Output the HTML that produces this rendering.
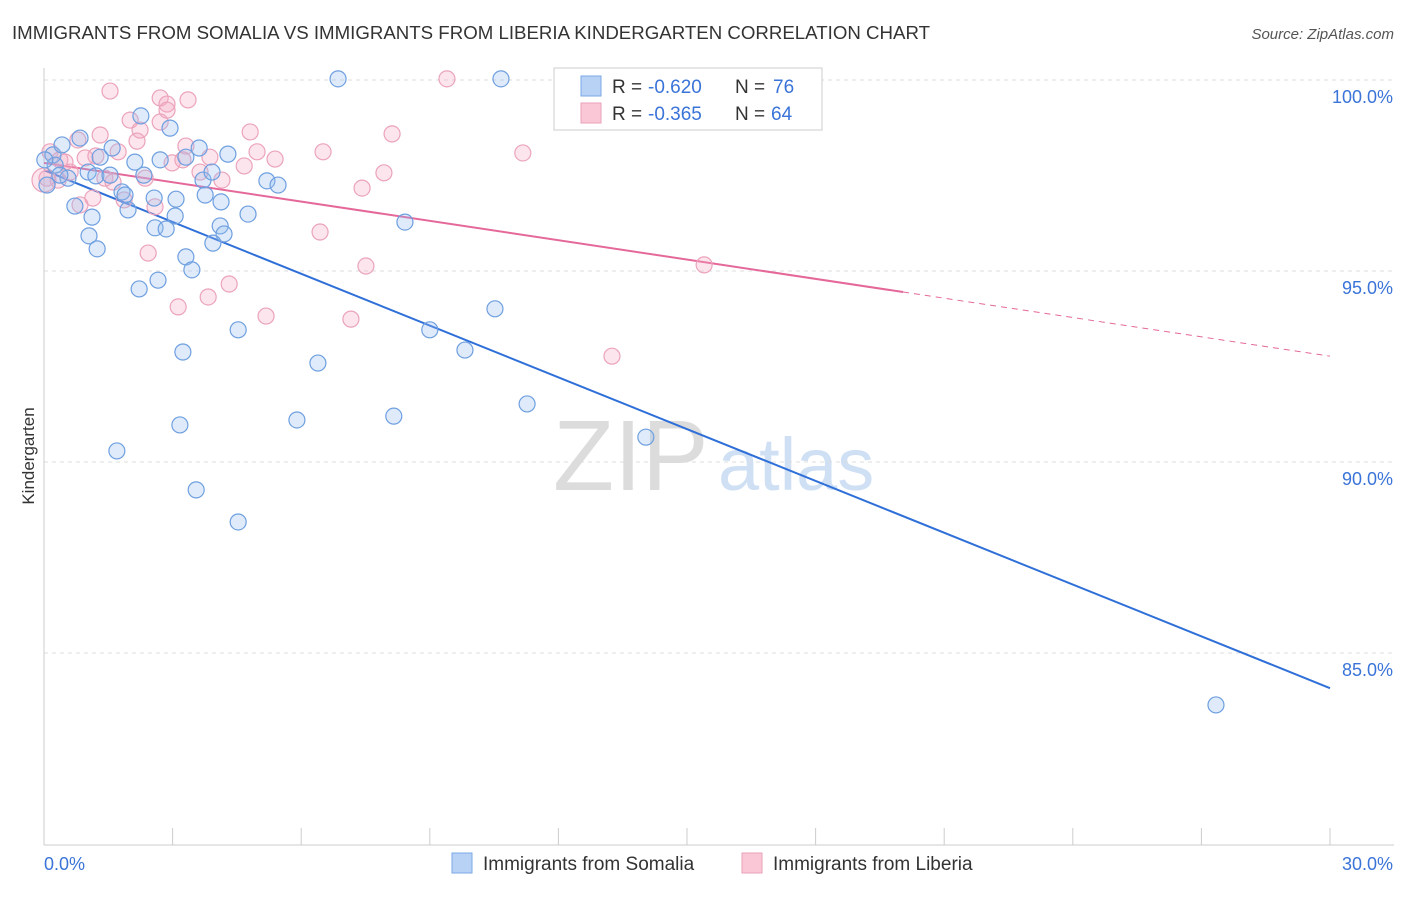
<!DOCTYPE html>
<html><head><meta charset="utf-8"><style>
body{margin:0;background:#fff;font-family:"Liberation Sans",sans-serif;}
svg text{font-family:"Liberation Sans",sans-serif;}
</style></head><body>
<svg id="c" width="1406" height="892" xmlns="http://www.w3.org/2000/svg">
<text x="12" y="39" font-size="18" fill="#333" textLength="918" lengthAdjust="spacingAndGlyphs">IMMIGRANTS FROM SOMALIA VS IMMIGRANTS FROM LIBERIA KINDERGARTEN CORRELATION CHART</text>
<text x="1394" y="39" font-size="15" fill="#555" text-anchor="end" font-style="italic">Source: ZipAtlas.com</text>
<text x="34" y="456" font-size="17" fill="#333" text-anchor="middle" transform="rotate(-90 34 456)">Kindergarten</text>
<g><text x="553" y="490" font-size="100" fill="#dcdcdc" font-family="Liberation Serif,serif">ZIP</text><text x="718" y="490" font-size="74" fill="#cfe0f5">atlas</text></g>
<g id="grid"></g><g id="axes"></g><g id="lines"></g><g id="pts"></g>
<g>
<rect x="554" y="68" width="268" height="62" fill="#fff" stroke="#ccc"/>
<rect x="581" y="76" width="20" height="20" fill="#b8d2f5" stroke="#7aa8e6"/>
<text x="612" y="93" font-size="19" fill="#333">R =</text>
<text x="648" y="93" font-size="19" fill="#3a74d8">-0.620</text>
<text x="735" y="93" font-size="19" fill="#333">N =</text>
<text x="773" y="93" font-size="19" fill="#3a74d8">76</text>
<rect x="581" y="103" width="20" height="20" fill="#f9c7d6" stroke="#eaa0b8"/>
<text x="612" y="120" font-size="19" fill="#333">R =</text>
<text x="648" y="120" font-size="19" fill="#3a74d8">-0.365</text>
<text x="735" y="120" font-size="19" fill="#333">N =</text>
<text x="771" y="120" font-size="19" fill="#3a74d8">64</text>
</g>
<g>
<rect x="452" y="853" width="20" height="20" fill="#b8d2f5" stroke="#7aa8e6"/>
<text x="483" y="870" font-size="19" fill="#333">Immigrants from Somalia</text>
<rect x="742" y="853" width="20" height="20" fill="#f9c7d6" stroke="#eaa0b8"/>
<text x="773" y="870" font-size="19" fill="#333">Immigrants from Liberia</text>
</g>
</svg>
<script>
const yTicks=[100,95,90,85];
const yTickLabels=["100.0%","95.0%","90.0%","85.0%"];
const xTicks=[0,3,6,9,12,15,18,21,24,27,30];
const xEndLabels=["0.0%","30.0%"];
const somaliaX=[6.86,10.66,0.21,0.42,0.84,1.31,1.59,2.26,2.94,3.62,4.29,2.12,2.71,3.31,3.71,3.92,0.26,0.56,1.03,1.21,1.82,2.33,3.08,3.76,4.13,4.76,5.20,5.46,0.72,1.12,1.96,2.57,3.06,2.59,2.85,4.11,4.20,3.94,1.05,1.24,3.31,3.45,2.66,2.22,8.42,4.53,3.24,6.39,9.00,9.82,10.52,5.90,8.16,11.27,3.17,1.70,14.04,3.55,4.53,27.34,0.07,0.37,1.54,1.89,0.02];
const somaliaY=[100.03,100.03,98.04,98.30,98.48,97.98,98.22,99.06,98.74,98.22,98.06,97.85,97.91,97.98,97.38,97.59,97.77,97.43,97.59,97.49,97.07,97.51,96.88,96.99,96.81,96.49,97.36,97.25,96.70,96.41,96.60,96.91,96.44,96.13,96.10,96.18,95.97,95.73,95.92,95.58,95.37,95.03,94.76,94.53,96.28,93.46,92.88,92.59,93.46,92.93,94.01,91.10,91.20,91.52,90.97,90.29,90.65,89.27,88.43,83.64,97.25,97.51,97.51,96.99,97.91];
const liberiaX=[1.54,2.71,3.36,2.87,9.40,2.87,2.01,4.81,8.12,1.31,0.79,2.17,3.31,3.87,4.97,5.39,6.51,11.17,1.21,0.96,1.73,0.14,0.37,2.99,3.24,3.64,4.15,4.67,7.93,7.42,0.61,0.33,1.42,2.36,1.61,1.14,0.84,1.87,2.59,6.44,2.43,7.51,15.40,3.83,3.13,4.32,5.18,7.16,13.25,0.07,0.49,2.24,2.71,0.0];
const liberiaY=[99.71,99.53,99.48,99.37,100.03,99.21,98.95,98.64,98.59,98.56,98.43,98.40,98.27,97.98,98.12,97.93,98.12,98.09,98.01,97.96,98.12,98.12,97.91,97.83,97.91,97.59,97.38,97.75,97.57,97.17,97.59,97.38,97.43,97.43,97.33,96.91,96.73,96.86,96.68,96.02,95.47,95.13,95.16,94.32,94.06,94.66,93.82,93.74,92.77,97.43,97.85,98.69,98.90,97.38];
const somaliaTrend=[97.64,84.08];
const liberiaTrend=[97.83,92.77];
const liberiaSolidEnd=20.04;
const NS="http://www.w3.org/2000/svg";
const X=v=>44+v*(1330-44)/30;
const Y=v=>80+(100-v)*38.2;
function mk(t,a,p){const e=document.createElementNS(NS,t);for(const k in a)e.setAttribute(k,a[k]);document.getElementById(p).appendChild(e);return e;}
yTicks.forEach((t,i)=>{
 const l=mk('line',{x1:44,x2:1394,y1:Y(t),y2:Y(t),stroke:'#ddd','stroke-dasharray':'4,4'},'grid');
 
 
 const tx=mk('text',{x:1393,y:Y(t)+23,'font-size':18,fill:'#3a74d8','text-anchor':'end'},'axes');
 tx.textContent=yTickLabels[i];
 
 
});
const ax=mk('line',{x1:44,x2:44,y1:68,y2:845,stroke:'#ccc'},'axes');


const bx=mk('line',{x1:44,x2:1394,y1:845,y2:845,stroke:'#ccc'},'axes');


xTicks.forEach(t=>{
 const l=mk('line',{x1:X(t),x2:X(t),y1:828,y2:845,stroke:'#ccc'},'axes');
 
 
});
const xl0=mk('text',{x:44,y:870,'font-size':18,fill:'#3a74d8'},'axes');xl0.textContent=xEndLabels[0];


const xl1=mk('text',{x:1393,y:870,'font-size':18,fill:'#3a74d8','text-anchor':'end'},'axes');xl1.textContent=xEndLabels[1];


function pts(xs,ys,fill,stroke,name){xs.forEach((x,i)=>{
 const c=mk('circle',{cx:X(x),cy:Y(ys[i]),r:(x===0?12:8),fill:fill,stroke:stroke,'stroke-width':1.2},'pts');
 
 
});}
pts(liberiaX,liberiaY,'rgba(245,170,195,0.3)','#eba3bb','liberia-point');
pts(somaliaX,somaliaY,'rgba(150,190,240,0.3)','#6e9fe0','somalia-point');
const lerp=(tr,x)=>tr[0]+(tr[1]-tr[0])*x/30;
const bl=mk('line',{x1:X(0),y1:Y(somaliaTrend[0]),x2:X(30),y2:Y(somaliaTrend[1]),stroke:'#2f6fd8','stroke-width':2},'lines');


const pl=mk('line',{x1:X(0),y1:Y(liberiaTrend[0]),x2:X(liberiaSolidEnd),y2:Y(lerp(liberiaTrend,liberiaSolidEnd)),stroke:'#e5689a','stroke-width':2},'lines');


const pd=mk('line',{x1:X(liberiaSolidEnd),y1:Y(lerp(liberiaTrend,liberiaSolidEnd)),x2:X(30),y2:Y(liberiaTrend[1]),stroke:'#e5689a','stroke-width':1,'stroke-dasharray':'6,5'},'lines');


</script>
</body></html>
